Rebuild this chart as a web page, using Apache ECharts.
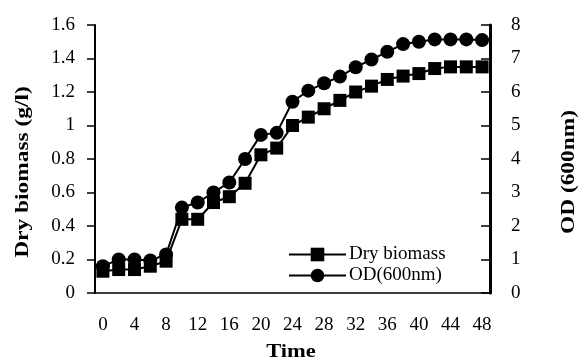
<!DOCTYPE html>
<html>
<head>
<meta charset="utf-8">
<script src="https://cdn.jsdelivr.net/npm/echarts@6/dist/echarts.min.js"></script>
<style>
html,body{margin:0;padding:0;background:#fff;}
#c{width:582px;height:363px;}
</style>
</head>
<body>
<div id="c"></div>
<script>
const timeCategories = ['0','2','4','6','8','10','12','14','16','18','20','22','24','26','28','30','32','34','36','38','40','42','44','46','48'];
const dryBiomass = [0.13,0.14,0.14,0.16,0.19,0.44,0.44,0.54,0.575,0.655,0.825,0.865,1.0,1.05,1.10,1.15,1.20,1.235,1.275,1.295,1.31,1.34,1.35,1.35,1.35];
const od600 = [0.8,1.0,1.0,0.97,1.15,2.55,2.7,3.0,3.3,4.0,4.72,4.78,5.71,6.04,6.26,6.46,6.74,6.97,7.2,7.43,7.5,7.57,7.57,7.57,7.55];
const seriesNames = ['Dry biomass','OD(600nm)'];
const axisTitles = {left:'Dry biomass (g/l)', right:'OD (600nm)', bottom:'Time'};

const FONT = '"Liberation Serif", "Times New Roman", serif';
const chart = echarts.init(document.getElementById('c'), null, {renderer:'canvas'});
chart.setOption({
  animation:false,
  backgroundColor:'#fff',
  grid:{left:95, right:92, top:25, bottom:70},
  legend:{
    left:283, top:240, orient:'vertical',
    itemWidth:57, itemHeight:17, itemGap:2,
    textStyle:{fontFamily:FONT, fontSize:19, color:'#000', padding:[0,0,0,-2]},
    data:seriesNames
  },
  xAxis:{
    type:'category', data:timeCategories, boundaryGap:true,
    axisLine:{lineStyle:{color:'#000', width:1.5}},
    axisTick:{interval:0, length:8, lineStyle:{color:'#000', width:1.2}},
    axisLabel:{interval:1, margin:23, fontFamily:FONT, fontSize:19, color:'#000'},
    splitLine:{show:false}
  },
  yAxis:[{
    type:'value', min:0, max:1.6, interval:0.2, position:'left',
    axisLine:{show:true, lineStyle:{color:'#000', width:2}},
    axisTick:{show:true, length:8, lineStyle:{color:'#000', width:1.5}},
    axisLabel:{margin:20, fontFamily:FONT, fontSize:19, color:'#000'},
    splitLine:{show:false}
  },{
    type:'value', min:0, max:8, interval:1, position:'right',
    axisLine:{show:true, lineStyle:{color:'#000', width:3}},
    axisTick:{show:true, inside:true, length:9, lineStyle:{color:'#000', width:1.5}},
    axisLabel:{margin:21, fontFamily:FONT, fontSize:19, color:'#000'},
    splitLine:{show:false}
  }],
  graphic:[{
    type:'text', x:23, y:172, rotation:Math.PI/2, scaleX:1.3,
    style:{text:axisTitles.left, x:0, y:0, align:'center', verticalAlign:'middle',
      font:'bold 18px ' + FONT, fill:'#000'}
  },{
    type:'text', x:569, y:172, rotation:Math.PI/2, scaleX:1.3,
    style:{text:axisTitles.right, x:0, y:0, align:'center', verticalAlign:'middle',
      font:'bold 18px ' + FONT, fill:'#000'}
  },{
    type:'text', x:291, y:352, scaleX:1.25,
    style:{text:axisTitles.bottom, x:0, y:0, align:'center', verticalAlign:'middle',
      font:'bold 18px ' + FONT, fill:'#000'}
  }],
  series:[{
    name:seriesNames[0], type:'line', yAxisIndex:0, data:dryBiomass,
    symbol:'rect', symbolSize:13, z:3, showAllSymbol:true,
    lineStyle:{color:'#000', width:2}, itemStyle:{color:'#000'}
  },{
    name:seriesNames[1], type:'line', yAxisIndex:1, data:od600,
    symbol:'circle', symbolSize:14, z:2, showAllSymbol:true,
    lineStyle:{color:'#000', width:2}, itemStyle:{color:'#000'}
  }]
});
</script>
</body>
</html>
